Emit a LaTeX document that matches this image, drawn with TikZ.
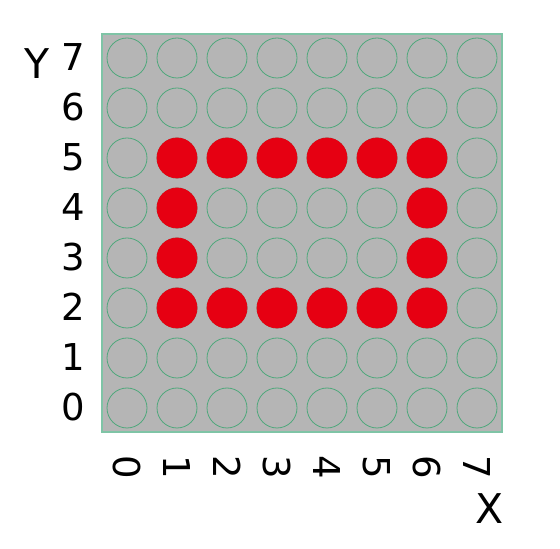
\documentclass[tikz,border=0pt]{standalone}
\usepackage{fontspec}
\setmainfont{DejaVu Sans}
\definecolor{panel}{HTML}{B5B5B5}
\definecolor{paneledge}{HTML}{7FC4A6}
\definecolor{ledring}{HTML}{4FA87C}
\definecolor{ledred}{HTML}{E60012}
\begin{document}
\begin{tikzpicture}[x=1pt,y=1pt,
  led/.style={circle,draw=ledring,line width=0.8pt,minimum size=40pt,inner sep=0pt},
  ledon/.style={circle,fill=ledred,draw=ledred,line width=0.8pt,minimum size=40pt,inner sep=0pt},
  lbl/.style={font=\fontsize{37}{42}\selectfont,inner sep=0pt,anchor=center},
  axlbl/.style={font=\fontsize{41}{46}\selectfont,inner sep=0pt,anchor=center}]
\path[use as bounding box,fill=white] (0,0) rectangle (560,549);
\node[draw=paneledge,fill=panel,line width=1.2pt,minimum width=400pt,minimum height=398pt,inner sep=0pt] (panel) at (302,316) {};
\foreach \i in {0,...,7}{
  \foreach \j in {0,...,7}{
    \node[led] (c-\i-\j) at ({127+50*\i},{141+50*\j}) {};
  }
}
\foreach \i/\j in {1/5,2/5,3/5,4/5,5/5,6/5,1/4,6/4,1/3,6/3,1/2,2/2,3/2,4/2,5/2,6/2}{
  \node[ledon] (r-\i-\j) at ({127+50*\i},{141+50*\j}) {};
}
\foreach \j in {0,...,7}{
  \node[lbl] (ylab-\j) at (73,{142+50*\j}) {\j};
}
\foreach \i in {0,...,7}{
  \node[lbl,rotate=-90] (xlab-\i) at ({127+50*\i},82) {\i};
}
\node[axlbl] (ylabel) at (37,485) {Y};
\node[axlbl] (xlabel) at (490,40) {X};
\end{tikzpicture}
\end{document}
